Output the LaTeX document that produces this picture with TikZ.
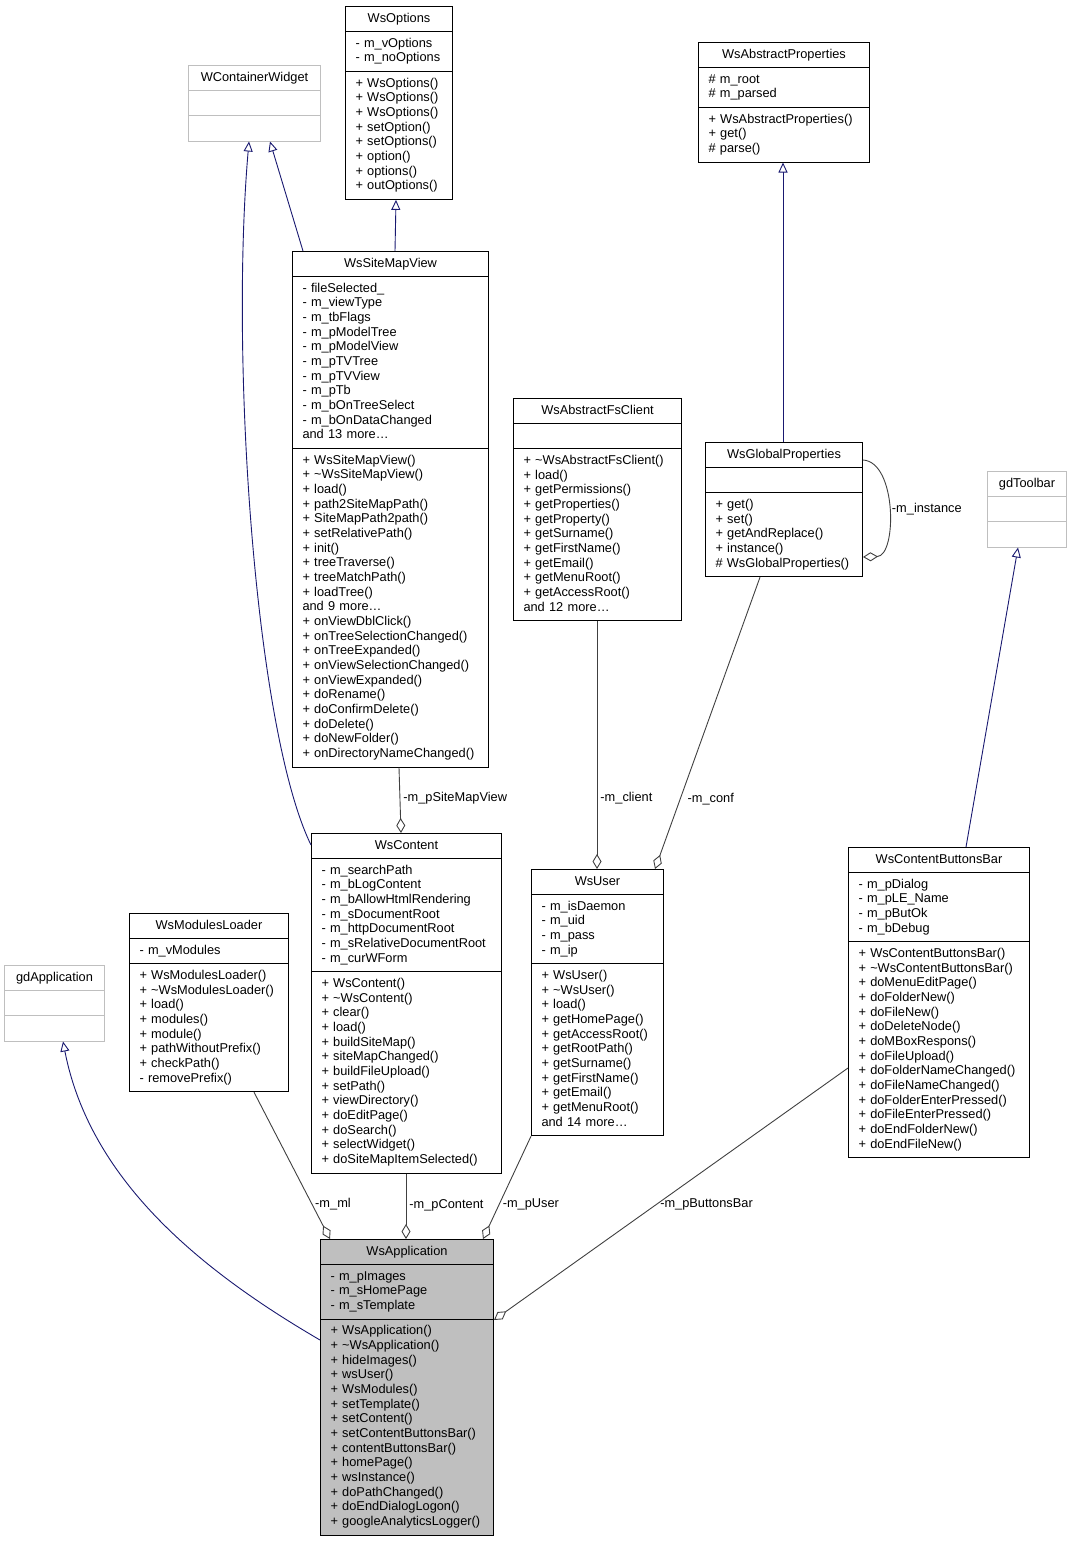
\documentclass[tikz,border=0pt]{standalone}
\usepackage{fontspec}
\setmainfont{Liberation Sans}
\usetikzlibrary{shapes.multipart, arrows.meta, calc}
\definecolor{navyline}{RGB}{25,25,112}
\definecolor{memberline}{RGB}{64,64,64}
\definecolor{extgray}{RGB}{191,191,191}
\newcommand{\classrows}[1]{\strut#1\strut}
\newcommand{\classname}[1]{\strut\hfill#1\hfill\strut}

\begin{document}
\begin{tikzpicture}[
		x=1pt, y=-1pt,
		cls/.style={draw, line width=1pt, rectangle split, rectangle split parts=3, anchor=north west,
			inner xsep=10pt, inner ysep=4.75pt, align=left, font=\fontsize{12.8}{14.67}\selectfont},
		ext/.style={cls, draw=extgray},
		focus/.style={cls, fill=extgray},
		inherit/.style={draw=navyline, line width=0.9pt, -{Triangle[open, length=10pt, width=9pt]}},
		member/.style={draw=memberline, line width=0.9pt, -{Diamond[open, length=15pt, width=9pt]}},
		role/.style={anchor=west, inner sep=3pt, font=\fontsize{12.8}{14.67}\selectfont}
		]
		\useasboundingbox (0,0) rectangle (1071,1541);

		% top row
		\node[ext, text width=112pt] (container) at (188,65)
			{\classname{WContainerWidget}\nodepart{two}\classrows{}\nodepart{three}\classrows{}};
		\node[cls, text width=87pt] (options) at (345,6)
			{\classname{WsOptions}
			\nodepart{two}\classrows{- m\_vOptions\\- m\_noOptions}
			\nodepart{three}\classrows{+ WsOptions()\\+ WsOptions()\\+ WsOptions()\\+ setOption()\\+ setOptions()\\+ option()\\+ options()\\+ outOptions()}};
		\node[cls, text width=151pt] (absprops) at (698,42)
			{\classname{WsAbstractProperties}
			\nodepart{two}\classrows{\# m\_root\\\# m\_parsed}
			\nodepart{three}\classrows{+ WsAbstractProperties()\\+ get()\\\# parse()}};

		% middle row
		\node[cls, text width=176pt] (sitemap) at (292,251)
			{\classname{WsSiteMapView}
			\nodepart{two}\classrows{- fileSelected\_\\- m\_viewType\\- m\_tbFlags\\- m\_pModelTree\\- m\_pModelView\\- m\_pTVTree\\- m\_pTVView\\- m\_pTb\\- m\_bOnTreeSelect\\- m\_bOnDataChanged\\and 13 more\dots}
			\nodepart{three}\classrows{+ WsSiteMapView()\\+ \textasciitilde WsSiteMapView()\\+ load()\\+ path2SiteMapPath()\\+ SiteMapPath2path()\\+ setRelativePath()\\+ init()\\+ treeTraverse()\\+ treeMatchPath()\\+ loadTree()\\and 9 more\dots\\+ onViewDblClick()\\+ onTreeSelectionChanged()\\+ onTreeExpanded()\\+ onViewSelectionChanged()\\+ onViewExpanded()\\+ doRename()\\+ doConfirmDelete()\\+ doDelete()\\+ doNewFolder()\\+ onDirectoryNameChanged()}};
		\node[cls, text width=148pt] (fsclient) at (513,398)
			{\classname{WsAbstractFsClient}
			\nodepart{two}\classrows{}
			\nodepart{three}\classrows{+ \textasciitilde WsAbstractFsClient()\\+ load()\\+ getPermissions()\\+ getProperties()\\+ getProperty()\\+ getSurname()\\+ getFirstName()\\+ getEmail()\\+ getMenuRoot()\\+ getAccessRoot()\\and 12 more\dots}};
		\node[cls, text width=137pt] (globprops) at (705,442)
			{\classname{WsGlobalProperties}
			\nodepart{two}\classrows{}
			\nodepart{three}\classrows{+ get()\\+ set()\\+ getAndReplace()\\+ instance()\\\# WsGlobalProperties()}};
		\node[ext, text width=59pt] (toolbar) at (987,471)
			{\classname{gdToolbar}\nodepart{two}\classrows{}\nodepart{three}\classrows{}};

		% lower row
		\node[cls, text width=170pt] (content) at (311,833)
			{\classname{WsContent}
			\nodepart{two}\classrows{- m\_searchPath\\- m\_bLogContent\\- m\_bAllowHtmlRendering\\- m\_sDocumentRoot\\- m\_httpDocumentRoot\\- m\_sRelativeDocumentRoot\\- m\_curWForm}
			\nodepart{three}\classrows{+ WsContent()\\+ \textasciitilde WsContent()\\+ clear()\\+ load()\\+ buildSiteMap()\\+ siteMapChanged()\\+ buildFileUpload()\\+ setPath()\\+ viewDirectory()\\+ doEditPage()\\+ doSearch()\\+ selectWidget()\\+ doSiteMapItemSelected()}};
		\node[cls, text width=112pt] (user) at (531,869)
			{\classname{WsUser}
			\nodepart{two}\classrows{- m\_isDaemon\\- m\_uid\\- m\_pass\\- m\_ip}
			\nodepart{three}\classrows{+ WsUser()\\+ \textasciitilde WsUser()\\+ load()\\+ getHomePage()\\+ getAccessRoot()\\+ getRootPath()\\+ getSurname()\\+ getFirstName()\\+ getEmail()\\+ getMenuRoot()\\and 14 more\dots}};
		\node[cls, text width=161pt] (buttons) at (848,847)
			{\classname{WsContentButtonsBar}
			\nodepart{two}\classrows{- m\_pDialog\\- m\_pLE\_Name\\- m\_pButOk\\- m\_bDebug}
			\nodepart{three}\classrows{+ WsContentButtonsBar()\\+ \textasciitilde WsContentButtonsBar()\\+ doMenuEditPage()\\+ doFolderNew()\\+ doFileNew()\\+ doDeleteNode()\\+ doMBoxRespons()\\+ doFileUpload()\\+ doFolderNameChanged()\\+ doFileNameChanged()\\+ doFolderEnterPressed()\\+ doFileEnterPressed()\\+ doEndFolderNew()\\+ doEndFileNew()}};
		\node[cls, text width=139pt] (modules) at (129,913)
			{\classname{WsModulesLoader}
			\nodepart{two}\classrows{- m\_vModules}
			\nodepart{three}\classrows{+ WsModulesLoader()\\+ \textasciitilde WsModulesLoader()\\+ load()\\+ modules()\\+ module()\\+ pathWithoutPrefix()\\+ checkPath()\\- removePrefix()}};
		\node[ext, text width=80pt] (gdapp) at (4,965)
			{\classname{gdApplication}\nodepart{two}\classrows{}\nodepart{three}\classrows{}};

		% the class itself
		\node[focus, text width=153pt] (app) at (320,1239)
			{\classname{WsApplication}
			\nodepart{two}\classrows{- m\_pImages\\- m\_sHomePage\\- m\_sTemplate}
			\nodepart{three}\classrows{+ WsApplication()\\+ \textasciitilde WsApplication()\\+ hideImages()\\+ wsUser()\\+ WsModules()\\+ setTemplate()\\+ setContent()\\+ setContentButtonsBar()\\+ contentButtonsBar()\\+ homePage()\\+ wsInstance()\\+ doPathChanged()\\+ doEndDialogLogon()\\+ googleAnalyticsLogger()}};

		% inheritance
		\draw[inherit] ($(sitemap.north west)+(11,0)$) -- ($(container.south west)+(82,0)$);
		\draw[inherit] ($(content.north west)+(0,12)$) .. controls (255,730) and (230,360) .. ($(container.south west)+(61,0)$);
		\draw[inherit] ($(sitemap.north west)+(103,0)$) -- ($(options.south west)+(51,0)$);
		\draw[inherit] ($(globprops.north west)+(78,0)$) -- ($(absprops.south west)+(85,0)$);
		\draw[inherit] ($(buttons.north west)+(118,0)$) -- ($(toolbar.south west)+(31,0)$);
		\draw[inherit] ($(app.north west)+(0,101)$) .. controls (200,1270) and (90,1180) .. ($(gdapp.south west)+(59,0)$);

		% members
		\draw[member] ($(sitemap.south west)+(107,0)$) -- node[role, pos=0.47] {-m\_pSiteMapView} ($(content.north west)+(90,0)$);
		\draw[member] ($(fsclient.south west)+(84,0)$) -- node[role, pos=0.715] {-m\_client} ($(user.north west)+(66,0)$);
		\draw[member] ($(globprops.south west)+(55,0)$) -- node[role, pos=0.76, xshift=4pt] {-m\_conf} ($(user.north west)+(124,0)$);
		\draw[member] ($(globprops.north east)+(0,18)$) .. controls (897,462) and (897,556) .. node[role, pos=0.5] {-m\_instance} ($(globprops.north east)+(0,115)$);
		\draw[member] ($(modules.south west)+(125,0)$) -- node[role, pos=0.76] {-m\_ml} ($(app.north west)+(10,0)$);
		\draw[member] ($(content.south west)+(95,0)$) -- node[role, pos=0.48] {-m\_pContent} ($(app.north west)+(86,0)$);
		\draw[member] (user.south west) -- node[role, pos=0.66] {-m\_pUser} ($(app.north west)+(163,0)$);
		\draw[member] ($(buttons.north west)+(0,221)$) -- node[role, pos=0.54] {-m\_pButtonsBar} ($(app.north east)+(0,81)$);
	\end{tikzpicture}
\end{document}
